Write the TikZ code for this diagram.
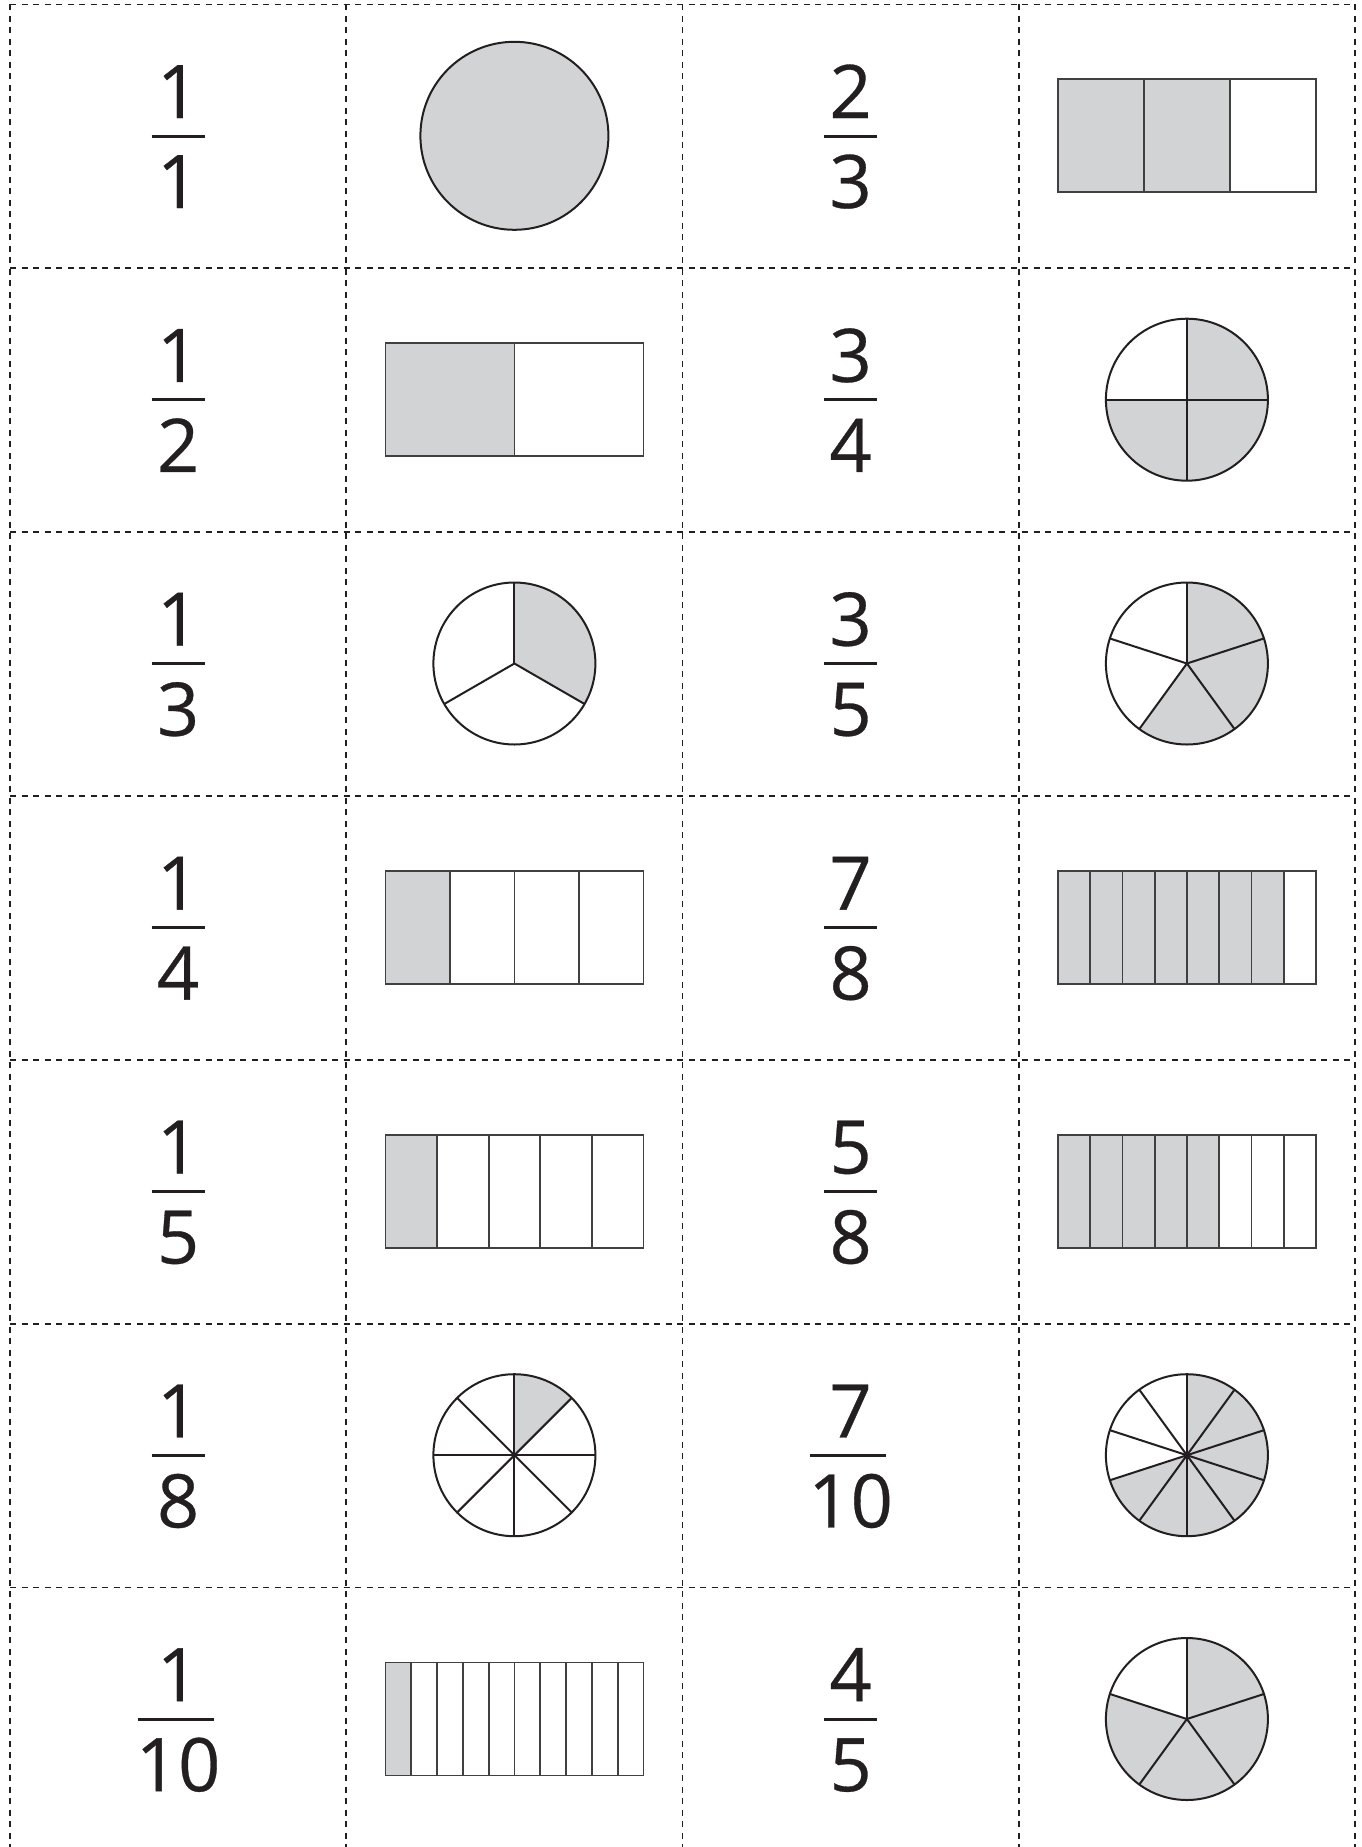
\documentclass[tikz,border=0pt]{standalone}
\usepackage{fontspec}
\setmainfont{Open Sans}
\definecolor{ink}{HTML}{231F20}
\definecolor{shadegray}{HTML}{D1D3D4}
\definecolor{rectink}{HTML}{404041}
\tikzset{
  gridline/.style={draw=ink, line width=1.6pt, dash pattern=on 6pt off 5.5pt},
  digit/.style={anchor=base, inner sep=0pt, font=\fontsize{74}{80}\selectfont\addfontfeature{FakeBold=0.4}, text=ink},
  fracbar/.style={draw=ink, line width=3pt},
  pieline/.style={draw=ink, line width=2pt},
  boxline/.style={draw=rectink, line width=1.8pt},
}
% name, cx, rowtop, num, den, halfwidth, barshift
\newcommand{\myfrac}[7]{%
  \node[digit] (#1n) at (#2, -#3-113.7) {#4};
  \node[digit] (#1d) at (#2, -#3-203.7) {#5};
  \coordinate (#1l) at (#2+#7-#6, -#3-131.7);
  \coordinate (#1r) at (#2+#7+#6, -#3-131.7);
  \draw[fracbar] (#1l) -- (#1r);
}
% name, cx, rowtop, n, k
\newcommand{\mypie}[5]{%
  \begin{scope}[shift={(#2,-#3-131.5)}]
    \coordinate (#1) at (0,0);
    \fill[shadegray] (0,0) -- (90:81) arc[start angle=90, end angle={90-#5*360/#4}, radius=81] -- cycle;
    \foreach \i in {1,...,#4} {\draw[pieline] (0,0) -- ({90-\i*360/#4}:81);}
    \draw[pieline] (0,0) circle[radius=81];
  \end{scope}
}
% name, cx, rowtop, n, k
\newcommand{\myrect}[5]{%
  \begin{scope}[shift={(#2-129,-#3-75-113)}]
    \coordinate (#1) at (129,56.5);
    \fill[shadegray] (0,0) rectangle ({258*#5/#4},113);
    \foreach \i in {1,...,#4} {\draw[boxline] ({258*\i/#4},0) -- ({258*\i/#4},113);}
    \draw[boxline] (0,0) rectangle (258,113);
  \end{scope}
}
\begin{document}
\begin{tikzpicture}[x=1pt,y=1pt]
\useasboundingbox[fill=white] (0,0) rectangle (1361,-1847);
% grid
\foreach \r in {4.3,268.2,532.0,795.9,1059.8,1323.7,1587.5} {
  \draw[gridline] (10,-\r) -- (1355,-\r);
}
\foreach \c in {10,346.25,682.5,1018.75,1355} {
  \draw[gridline] (\c,-4.3) -- (\c,-1847);
}
% row 1
\myfrac{fa}{178.1}{4.3}{1}{1}{26.5}{0}
\begin{scope}[shift={(514.4,-4.3-131.5)}]
  \coordinate (sa) at (0,0);
  \draw[pieline, fill=shadegray] (sa) circle[radius=94];
\end{scope}
\myfrac{fb}{850.6}{4.3}{2}{3}{26.5}{0}
\myrect{sb}{1186.9}{4.3}{3}{2}
% row 2
\myfrac{fc}{178.1}{268.2}{1}{2}{26.5}{0}
\myrect{sc}{514.4}{268.2}{2}{1}
\myfrac{fd}{850.6}{268.2}{3}{4}{26.5}{0}
\mypie{sd}{1186.9}{268.2}{4}{3}
% row 3
\myfrac{fe}{178.1}{532.0}{1}{3}{26.5}{0}
\mypie{se}{514.4}{532.0}{3}{1}
\myfrac{ff}{850.6}{532.0}{3}{5}{26.5}{0}
\mypie{sf}{1186.9}{532.0}{5}{3}
% row 4
\myfrac{fg}{178.1}{795.9}{1}{4}{26.5}{0}
\myrect{sg}{514.4}{795.9}{4}{1}
\myfrac{fh}{850.6}{795.9}{7}{8}{26.5}{0}
\myrect{sh}{1186.9}{795.9}{8}{7}
% row 5
\myfrac{fi}{178.1}{1059.8}{1}{5}{26.5}{0}
\myrect{si}{514.4}{1059.8}{5}{1}
\myfrac{fj}{850.6}{1059.8}{5}{8}{26.5}{0}
\myrect{sj}{1186.9}{1059.8}{8}{5}
% row 6
\myfrac{fk}{178.1}{1323.7}{1}{8}{26.5}{0}
\mypie{sk}{514.4}{1323.7}{8}{1}
\myfrac{fl}{850.6}{1323.7}{7}{10}{38}{-2.5}
\mypie{sl}{1186.9}{1323.7}{10}{7}
\fill[ink] (sl) circle[radius=2.2];
% row 7
\myfrac{fm}{178.1}{1587.5}{1}{10}{38}{-2.5}
\myrect{sm}{514.4}{1587.5}{10}{1}
\myfrac{fn}{850.6}{1587.5}{4}{5}{26.5}{0}
\mypie{sn}{1186.9}{1587.5}{5}{4}
\end{tikzpicture}
\end{document}
